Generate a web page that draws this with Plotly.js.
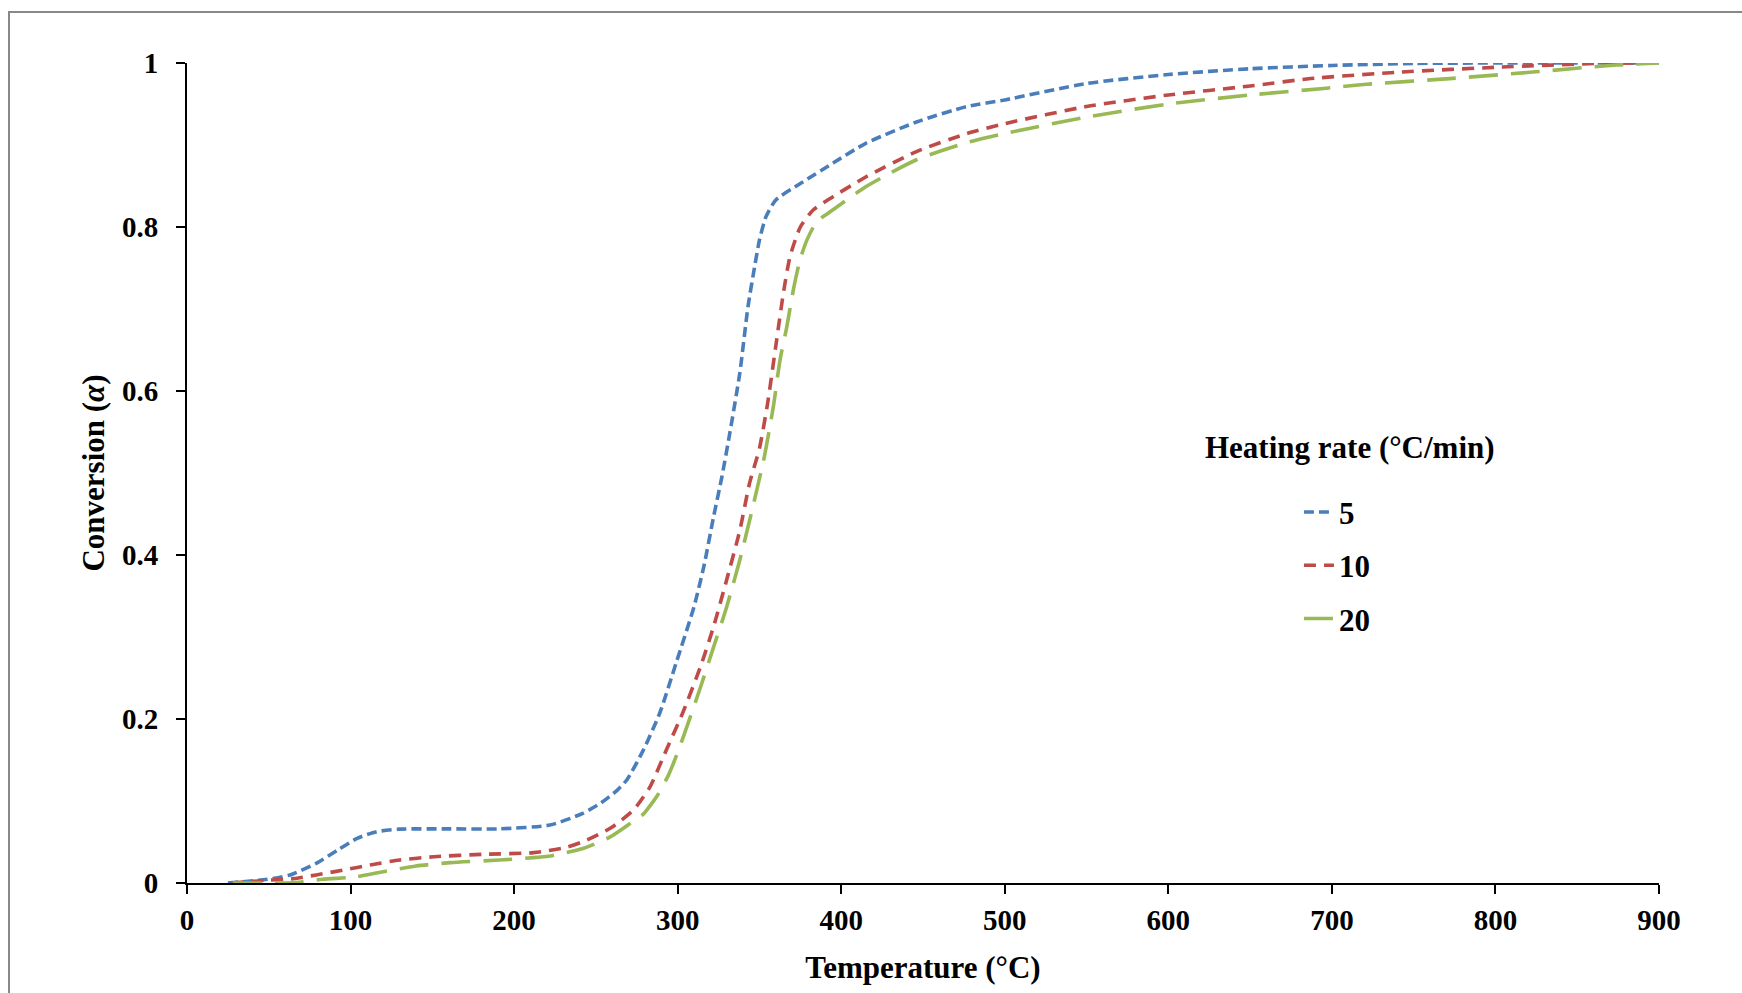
<!DOCTYPE html>
<html>
<head>
<meta charset="utf-8">
<script src="https://cdn.plot.ly/plotly-3.0.1.min.js"></script>
<style>
  html, body { margin: 0; padding: 0; background: #ffffff; overflow: hidden; }
  #chart { width: 1742px; height: 993px; position: absolute; left: 0; top: 0; }
  #frame { position: absolute; left: 8px; top: 11px; width: 2000px; height: 2000px;
           border-left: 2px solid #888888; border-top: 2px solid #888888; pointer-events: none; }
</style>
</head>
<body>
<div id="chart"></div>
<div id="frame"></div>
<script>
// Heating rate 5 °C/min
const temp5 = [25, 49, 63, 79, 92, 104, 116, 130, 160, 191, 222, 242, 253, 263, 269, 279, 289, 299, 310, 316, 322, 327, 332, 338, 343, 347, 350, 354, 360, 375, 395, 415, 446, 477, 500, 550, 600, 650, 700, 750, 800, 850, 900];
const conv5 = [0, 0.0045, 0.0098, 0.024, 0.040, 0.0545, 0.0626, 0.0657, 0.066, 0.066, 0.0707, 0.085, 0.0975, 0.113, 0.126, 0.162, 0.207, 0.268, 0.337, 0.386, 0.447, 0.495, 0.55, 0.622, 0.703, 0.751, 0.784, 0.8126, 0.833, 0.853, 0.878, 0.902, 0.928, 0.947, 0.955, 0.975, 0.986, 0.993, 0.997, 0.9995, 1, 1, 1];

// Heating rate 10 °C/min
const temp10 = [27, 49, 65, 79, 96, 112, 130, 151, 181, 212, 232, 244, 259, 273, 283, 293, 303, 314, 322, 330, 338, 344, 350, 355, 360.5, 364.6, 368.7, 375, 383, 395, 415, 446, 477, 500, 550, 600, 650, 687, 742, 803, 864, 900];
const conv10 = [0, 0.0033, 0.0053, 0.0098, 0.016, 0.022, 0.028, 0.032, 0.035, 0.037, 0.0435, 0.052, 0.067, 0.089, 0.117, 0.162, 0.207, 0.264, 0.313, 0.37, 0.43, 0.488, 0.53, 0.585, 0.662, 0.719, 0.764, 0.800, 0.821, 0.837, 0.861, 0.892, 0.914, 0.926, 0.947, 0.961, 0.972, 0.981, 0.989, 0.995, 0.9996, 1];

// Heating rate 20 °C/min
const temp20 = [28, 59, 69, 83, 104, 120, 140, 161, 191, 222, 242, 259, 271, 279, 288, 294, 299, 303.4, 314, 322, 330, 338, 346, 353, 358.5, 362.6, 366.7, 370.7, 374.8, 379, 385, 395, 415, 446, 477, 500, 550, 600, 650, 695, 721, 772, 823, 874, 900];
const conv20 = [0, 0, 0.001, 0.0045, 0.0077, 0.0138, 0.0207, 0.0248, 0.028, 0.033, 0.042, 0.0565, 0.0727, 0.084, 0.108, 0.13, 0.154, 0.178, 0.239, 0.288, 0.337, 0.394, 0.459, 0.52, 0.581, 0.638, 0.678, 0.723, 0.760, 0.784, 0.8065, 0.821, 0.849, 0.882, 0.903, 0.914, 0.934, 0.950, 0.961, 0.969, 0.974, 0.981, 0.989, 0.9976, 1];

const seriesNames = ["5", "10", "20"];
const xTitle = "Temperature (°C)";
const yTitle = "Conversion (<i>α</i>)";
const legendTitle = "Heating rate (°C/min)";

const FONT = "Liberation Serif, Times New Roman, serif";

function mk(x, y, name, color, dash) {
  return {
    x: x, y: y, name: name, legendgroup: name,
    type: "scatter", mode: "lines",
    line: { color: color, width: 3.6, dash: dash, shape: "spline", smoothing: 0.6 },
    hoverinfo: "skip"
  };
}

const data = [
  mk(temp5, conv5, seriesNames[0], "#4A7EBB", "10px,5px"),
  mk(temp10, conv10, seriesNames[1], "#BE4B48", "12px,8px"),
  mk(temp20, conv20, seriesNames[2], "#98B954", "29px,13px")
];

const layout = {
  width: 1742, height: 993,
  margin: { l: 187, r: 83, t: 63, b: 110, pad: 0 },
  paper_bgcolor: "#ffffff", plot_bgcolor: "#ffffff",
  font: { family: FONT, color: "#000000", size: 29, weight: "bold" },
  showlegend: true,
  legend: {
    x: 0.7554, y: 0.485, xanchor: "left", yanchor: "top",
    bgcolor: "rgba(0,0,0,0)",
    font: { family: FONT, size: 31, color: "#000", weight: "bold" },
    traceorder: "grouped",
    tracegroupgap: 10
  },
  annotations: [{
    text: legendTitle, xref: "paper", yref: "paper",
    x: 0.690, y: 0.5305, xanchor: "left", yanchor: "middle",
    showarrow: false,
    font: { family: FONT, size: 31, color: "#000", weight: "bold" }
  }],
  xaxis: {
    range: [0, 900], dtick: 100, tick0: 0,
    showline: true, linecolor: "#000", linewidth: 2,
    ticks: "outside", ticklen: 9, tickwidth: 2, tickcolor: "#000",
    showgrid: false, zeroline: false,
    tickfont: { family: FONT, size: 29, color: "#000", weight: "bold" },
    ticklabelstandoff: 1,
    title: { text: xTitle, standoff: 22, font: { family: FONT, size: 31, color: "#000", weight: "bold" } },
    fixedrange: true
  },
  yaxis: {
    range: [0, 1], dtick: 0.2, tick0: 0,
    showline: true, linecolor: "#000", linewidth: 2,
    ticks: "outside", ticklen: 9, tickwidth: 2, tickcolor: "#000",
    showgrid: false, zeroline: false,
    tickfont: { family: FONT, size: 29, color: "#000", weight: "bold" },
    ticklabelstandoff: 12,
    title: { text: yTitle, standoff: 8, font: { family: FONT, size: 31, color: "#000", weight: "bold" } },
    fixedrange: true
  }
};

Plotly.newPlot("chart", data, layout, { displayModeBar: false, staticPlot: true });
</script>
</body>
</html>
